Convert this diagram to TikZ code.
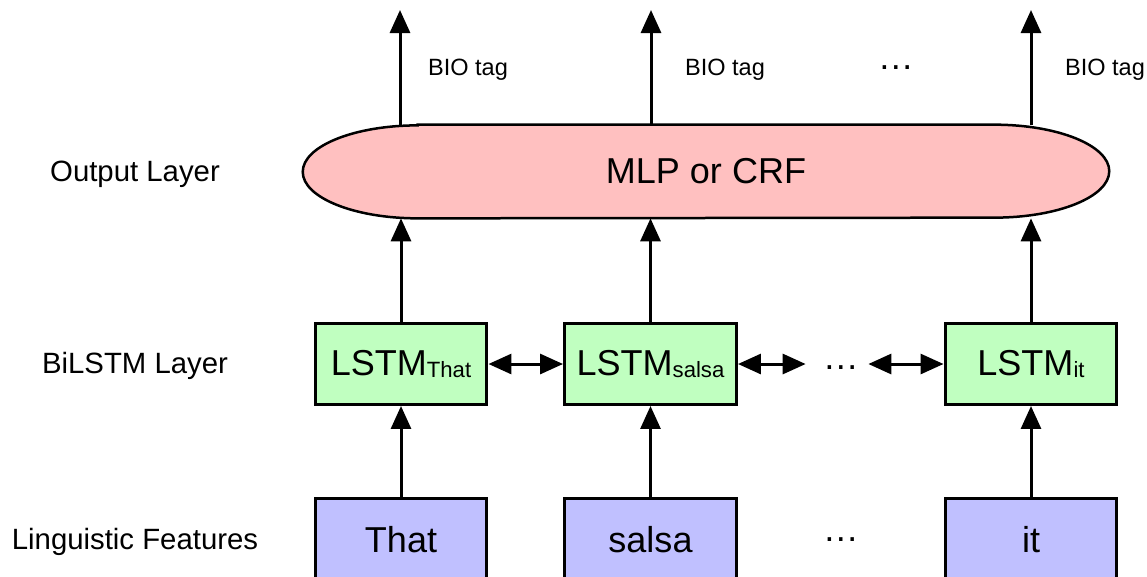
\documentclass[tikz,border=0pt]{standalone}
\usepackage{fontspec}
\setmainfont{Liberation Sans}
\usetikzlibrary{arrows.meta,calc,backgrounds}

\definecolor{pillpink}{RGB}{255,192,192}
\definecolor{lstmgreen}{RGB}{192,255,192}
\definecolor{featblue}{RGB}{192,192,255}

\newcommand{\lstmsub}[1]{\raisebox{-0.04cm}{\fontsize{12.6}{14}\selectfont #1}}

\begin{document}
\begin{tikzpicture}[x=0.02cm,y=-0.02cm,>={Triangle[length=0.46cm,width=0.4cm]}]
    \tikzstyle{layer} = [font=\fontsize{16.7}{20}\selectfont]
    \tikzstyle{tag} = [font=\fontsize{13.4}{16}\selectfont]
    \tikzstyle{big} = [font=\fontsize{20.5}{24}\selectfont]
    \tikzstyle{cell} = [big,draw,line width=0.06cm,minimum width=3.44cm,minimum height=1.62cm,inner sep=0]
    \tikzstyle{flow} = [->,line width=0.06cm]
    \useasboundingbox (0,0) rectangle (1147,576);
    % layer names
    \node[layer] (outname) at (135,174) {Output Layer};
    \node[layer] (lstmname) at (135,366) {BiLSTM Layer};
    \node[layer] (featname) at (135,542) {Linguistic Features};
    % input features
    \node[cell,fill=featblue,minimum height=1.68cm] (feat1) at (401,540) {That};
    \node[cell,fill=featblue,minimum height=1.68cm] (feat2) at (650.5,540) {salsa};
    \node[cell,fill=featblue,minimum height=1.68cm] (feat3) at (1031,540) {it};
    \node[big,anchor=base,inner sep=0] (featdots) at (841,541) {…};
    % BiLSTM cells
    \node[cell,fill=lstmgreen] (lstm1) at (401,364) {LSTM\lstmsub{That}};
    \node[cell,fill=lstmgreen] (lstm2) at (650.5,364) {LSTM\lstmsub{salsa}};
    \node[cell,fill=lstmgreen] (lstm3) at (1031,364) {LSTM\lstmsub{it}};
    \node[big,anchor=base,inner sep=0] (lstmdots) at (841,369) {…};
    % output layer
    \node[big,minimum width=16.12cm,minimum height=1.86cm,inner sep=0] (mlp) at (706,171.5) {MLP or CRF};
    \begin{scope}[on background layer]
      \draw[fill=pillpink,line width=0.05cm] ($(mlp.north west)+(2.3cm,0)$) -- ($(mlp.north east)-(2.3cm,0)$)
        arc[start angle=90,end angle=-90,x radius=2.3cm,y radius=0.93cm]
        -- ($(mlp.south west)+(2.3cm,0)$)
        arc[start angle=270,end angle=90,x radius=2.3cm,y radius=0.93cm] -- cycle;
    \end{scope}
    % tags
    \coordinate (out1) at (400,10);
    \coordinate (out2) at (651,10);
    \coordinate (out3) at (1031,10);
    \node[tag] (tag1) at (468,70) {BIO tag};
    \node[tag] (tag2) at (725,70) {BIO tag};
    \node[tag] (tag3) at (1105,70) {BIO tag};
    \node[big,anchor=base,inner sep=0] (tagdots) at (896,69) {…};
    % connectors
    \foreach \i in {1,2,3}
    {
      \draw[flow] (feat\i.north) -- (lstm\i.south);
      \draw[flow] (lstm\i.north) -- (lstm\i.north |- mlp.south);
      \draw[flow] (mlp.north -| out\i) -- (out\i);
    }
    \coordinate (dotsl) at ([xshift=-0.34cm]lstmdots.west |- lstm2.east);
    \coordinate (dotsr) at ([xshift=0.18cm]lstmdots.east |- lstm3.west);
    \begin{scope}[<->,line width=0.06cm]
      \draw (lstm1.east) -- (lstm2.west);
      \draw (lstm2.east) -- (dotsl);
      \draw (dotsr) -- (lstm3.west);
    \end{scope}
  \end{tikzpicture}
\end{document}
